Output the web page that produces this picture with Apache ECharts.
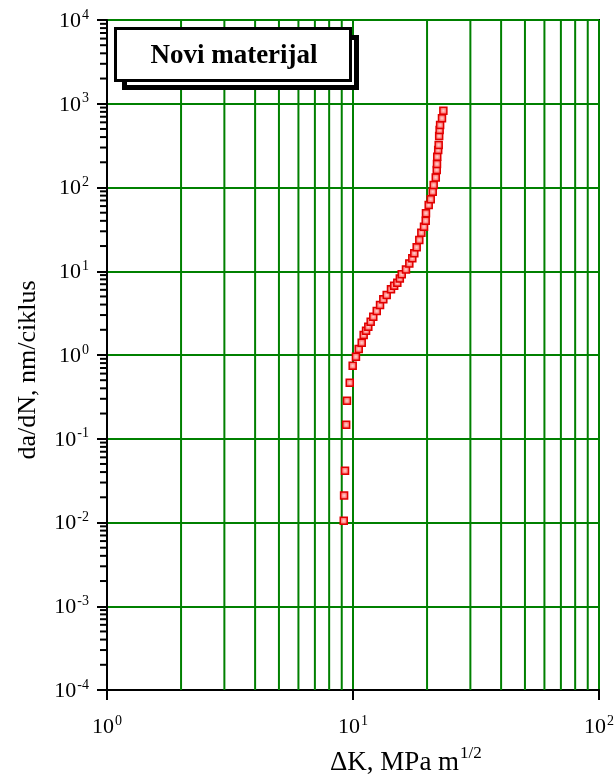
<!DOCTYPE html>
<html>
<head>
<meta charset="utf-8">
<script src="https://cdn.jsdelivr.net/npm/echarts@6/dist/echarts.min.js"></script>
<style>
  html, body { margin: 0; padding: 0; background: #fff; }
  #main { width: 615px; height: 777px; }
</style>
</head>
<body>
<div id="main"></div>
<script>
// podaci ocitani sa slike
var deltaK = [9.17, 9.2, 9.28, 9.38, 9.45, 9.70, 9.97, 10.28, 10.55, 10.85, 11.05, 11.3, 11.54, 11.8, 12.09, 12.49, 12.88, 13.28, 13.71, 14.27, 14.7, 15.14, 15.5, 15.78, 16.42, 16.94, 17.42, 17.75, 18.15, 18.6, 18.96, 19.44, 19.75, 19.8, 20.31, 20.7, 21.09, 21.28, 21.7, 21.9, 21.95, 22.0, 22.2, 22.3, 22.4, 22.5, 22.6, 23.0, 23.3];
var dadN = [0.0105, 0.021, 0.0416, 0.147, 0.284, 0.467, 0.745, 0.955, 1.18, 1.40, 1.73, 1.95, 2.18, 2.50, 2.87, 3.35, 3.95, 4.62, 5.20, 6.08, 6.7, 7.30, 8.2, 9.2, 10.5, 12.4, 14.3, 16.4, 19.3, 23.6, 28.8, 34.0, 40.1, 49.2, 61.8, 72.3, 89.1, 107, 132, 162, 191, 233, 281, 322, 412, 486, 557, 671, 827];
// plave tacke ispod crvenih
var blueK = [9.17, 10.28, 21.28];
var blueN = [0.0105, 0.955, 107];

var xMinor = [2, 3, 4, 5, 6, 7, 8, 9, 20, 30, 40, 50, 60, 70, 80, 90];
var yDecades = [1e-4, 1e-3, 1e-2, 1e-1, 1, 10, 100, 1000];
var yMult = [2, 3, 4, 5, 6, 7, 8, 9];

var serif = '"Liberation Serif", "DejaVu Serif", serif';
var green = '#008000';

var mainData = deltaK.map(function (k, i) { return [k, dadN[i]]; });
var blueData = blueK.map(function (k, i) { return [k, blueN[i]]; });
var vData = xMinor.map(function (v) { return [v, 1]; });
var yMinorData = [];
yDecades.forEach(function (d) {
    yMult.forEach(function (m) { yMinorData.push([1, d * m]); });
});

function expLabel(value) {
    var e = Math.round(Math.log(value) / Math.LN10);
    return '{b|10}{s|' + e + '}';
}
var labelRich = {
    b: { fontFamily: serif, fontSize: 22, color: '#000', verticalAlign: 'bottom', lineHeight: 24 },
    s: { fontFamily: serif, fontSize: 14, color: '#000', verticalAlign: 'bottom', lineHeight: 24, padding: [0, 0, 10, 1] }
};

var myChart = echarts.init(document.getElementById('main'));
myChart.setOption({
    animation: false,
    backgroundColor: '#fff',
    grid: {
        left: 107, right: 16, top: 20, bottom: 87,
        outerBoundsMode: 'none',
        containLabel: false,
        show: true, borderColor: '#000', borderWidth: 2, backgroundColor: '#fff'
    },
    xAxis: {
        type: 'log', logBase: 10, min: 1, max: 100, splitNumber: 2,
        axisLine: { show: true, lineStyle: { color: '#000', width: 2 } },
        axisTick: { show: true, length: 10, lineStyle: { color: '#000', width: 2 } },
        splitLine: { show: true, lineStyle: { color: green, width: 2 } },
        axisLabel: { margin: 24, formatter: expLabel, rich: labelRich, showMaxLabel: true, showMinLabel: true }
    },
    yAxis: {
        type: 'log', logBase: 10, min: 1e-4, max: 1e4, splitNumber: 8,
        axisLine: { show: true, lineStyle: { color: '#000', width: 2 } },
        axisTick: { show: true, length: 10, lineStyle: { color: '#000', width: 2 } },
        splitLine: { show: true, lineStyle: { color: green, width: 2 } },
        axisLabel: { margin: 18, formatter: expLabel, rich: labelRich, showMaxLabel: true, showMinLabel: true }
    },
    series: [
        {
            // zelene pomocne vertikalne linije
            type: 'custom',
            z: 1,
            silent: true,
            data: vData,
            renderItem: function (params, api) {
                var top = api.coord([api.value(0), 1e4]);
                var bot = api.coord([api.value(0), 1e-4]);
                return {
                    type: 'line',
                    shape: { x1: top[0], y1: top[1], x2: bot[0], y2: bot[1] },
                    style: { stroke: green, lineWidth: 2 }
                };
            }
        },
        {
            // sporedne crtice na y osi
            type: 'custom',
            z: 5,
            silent: true,
            clip: false,
            data: yMinorData,
            renderItem: function (params, api) {
                var p = api.coord([1, api.value(1)]);
                return {
                    type: 'line',
                    shape: { x1: p[0] - 7, y1: p[1], x2: p[0], y2: p[1] },
                    style: { stroke: '#000', lineWidth: 2 }
                };
            }
        },
        {
            type: 'scatter',
            z: 3,
            symbol: 'rect',
            symbolSize: 6,
            data: blueData,
            itemStyle: { color: '#6a6aa8', opacity: 1 }
        },
        {
            type: 'scatter',
            z: 4,
            symbol: 'rect',
            symbolSize: 7,
            data: mainData,
            itemStyle: {
                color: {
                    type: 'radial', x: 0.5, y: 0.5, r: 0.6,
                    colorStops: [{ offset: 0, color: '#ffd6d2' }, { offset: 1, color: '#ff2a2a' }]
                },
                borderColor: '#e00000',
                borderWidth: 1.5,
                opacity: 1
            }
        }
    ],
    graphic: [
        {
            type: 'rect', z: 100,
            shape: { x: 124.5, y: 37.5, width: 232, height: 50 },
            style: { fill: '#fff', stroke: '#000', lineWidth: 5 }
        },
        {
            type: 'rect', z: 101,
            shape: { x: 115.5, y: 28.5, width: 235, height: 52 },
            style: { fill: '#fff', stroke: '#000', lineWidth: 3 }
        },
        {
            type: 'text', z: 102,
            x: 234, y: 56,
            style: {
                text: 'Novi materijal', fontFamily: serif, fontSize: 27, fontWeight: 'bold',
                fill: '#000', align: 'center', verticalAlign: 'middle'
            }
        },
        {
            type: 'text', z: 102,
            x: 28, y: 370, rotation: Math.PI / 2,
            style: {
                text: 'da/dN, nm/ciklus', fontFamily: serif, fontSize: 26,
                fill: '#000', align: 'center', verticalAlign: 'middle'
            }
        },
        {
            type: 'text', z: 102,
            x: 330, y: 776,
            style: {
                text: '{a|\u0394K, MPa m}{s|1/2}',
                fill: '#000', align: 'left', verticalAlign: 'bottom',
                rich: {
                    a: { fontFamily: serif, fontSize: 27, verticalAlign: 'bottom', lineHeight: 30 },
                    s: { fontFamily: serif, fontSize: 17, verticalAlign: 'bottom', lineHeight: 30, padding: [0, 0, 14, 1] }
                }
            }
        }
    ]
});
</script>
</body>
</html>
